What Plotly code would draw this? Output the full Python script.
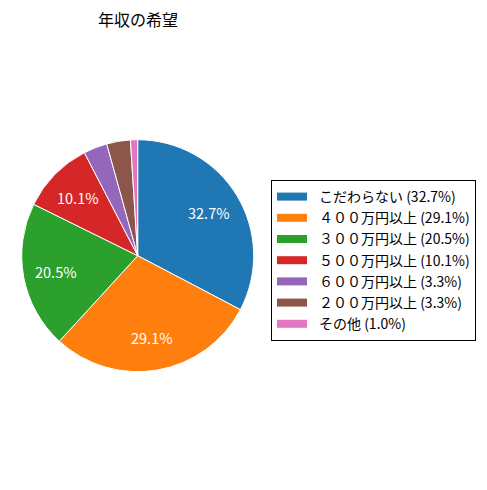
import math
import plotly.graph_objects as go

# --- DATA ---
labels = ["こだわらない", "４００万円以上", "３００万円以上", "５００万円以上",
          "６００万円以上", "２００万円以上", "その他"]
percents = [32.7, 29.1, 20.5, 10.1, 3.3, 3.3, 1.0]
colors = ["#1f77b4", "#ff7f0e", "#2ca02c", "#d62728", "#9467bd", "#8c564b", "#e377c2"]
TITLE = "年収の希望"

FONT = "Noto Sans CJK JP, DejaVu Sans, sans-serif"
W, H = 487, 490
OFF = 8  # page body margin in the browser

# pie placement (pixels in the screenshot)
CX, CY, R = 137.7, 255.7, 116
PCT_DIST = 0.72


def px_x(x):
    return (x - OFF) / W


def px_y(y):
    return 1 - (y - OFF) / H


# en space pushes the text a little further from the colour patch
legend_names = [f"\u2002{l} ({p:.1f}%)" for l, p in zip(labels, percents)]

fig = go.Figure()
fig.add_trace(go.Pie(
    labels=labels,
    values=percents,
    textinfo="none",
    marker=dict(colors=colors, line=dict(color="white", width=1)),
    sort=False,
    direction="clockwise",
    rotation=0,
    domain=dict(x=[px_x(CX - R), px_x(CX + R)], y=[px_y(CY + R), px_y(CY - R)]),
    showlegend=False,
    hoverinfo="label+percent",
))

# legend entries (wide colour patches like the original)
for i, (name, col) in enumerate(zip(legend_names, colors)):
    fig.add_trace(go.Scatter(
        x=[None], y=[None], mode="lines", name=name,
        line=dict(color=col, width=8), legendgroup=str(i), hoverinfo="skip",
    ))

# percentage labels for the larger slices, placed along each slice's middle angle
total = sum(percents)
start = 90.0
for p in percents:
    sweep = 360.0 * p / total
    mid = math.radians(start - sweep / 2)
    start -= sweep
    if p < 5:
        continue
    tx = CX + PCT_DIST * R * math.cos(mid)
    ty = CY - PCT_DIST * R * math.sin(mid)
    fig.add_annotation(x=px_x(tx), y=px_y(ty), xref="paper", yref="paper",
                       text=f"{p:.1f}%", showarrow=False,
                       font=dict(color="white", size=14.5, family=FONT),
                       xanchor="center", yanchor="middle")

fig.update_layout(
    width=W, height=H,
    margin=dict(l=0, r=0, t=0, b=0),
    paper_bgcolor="white", plot_bgcolor="white",
    font=dict(family=FONT, size=14, color="black"),
    title=dict(text=TITLE, x=px_x(138), xanchor="center", y=px_y(20), yanchor="middle",
               font=dict(size=16, family=FONT, color="black")),
    legend=dict(x=px_x(271), xanchor="left", y=px_y(180), yanchor="top",
                bordercolor="black", borderwidth=1, bgcolor="white",
                font=dict(size=14, family=FONT), tracegroupgap=0),
    xaxis=dict(visible=False),
    yaxis=dict(visible=False),
    showlegend=True,
)

fig.write_html("out.html")
